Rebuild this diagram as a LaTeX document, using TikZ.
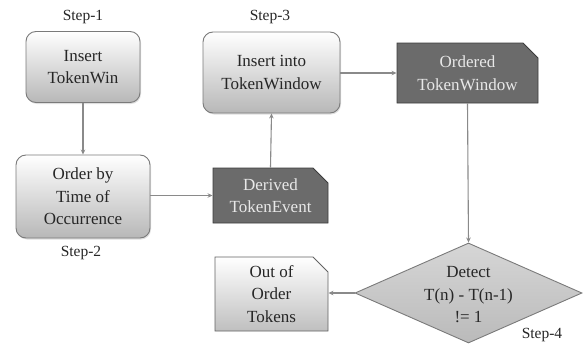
\documentclass[tikz,border=0pt]{standalone}
\usepackage{fontspec}
\setmainfont{Liberation Serif}
\usetikzlibrary{shapes.misc,shapes.geometric,arrows.meta,shadows}
\definecolor{edgegray}{HTML}{7A7A7A}
\definecolor{linegray}{HTML}{8A8A8A}
\definecolor{darkfill}{HTML}{6B6B6B}
\definecolor{darkedge}{HTML}{3C3C3C}
\definecolor{lighttext}{HTML}{E8E8E8}
\definecolor{textgray}{HTML}{262626}
\tikzset{
  x=1pt, y=-1pt,
  every node/.style={font=\fontsize{17}{22.5}\selectfont, align=center, inner sep=0pt, text=textgray},
  roundbox/.style={rounded corners=10pt, draw=edgegray, line width=0.9pt,
    top color=white, bottom color=black!28, drop shadow={opacity=0.25, shadow xshift=1pt, shadow yshift=-1.5pt}},
  darkdoc/.style={chamfered rectangle, chamfered rectangle corners=north east,
    chamfered rectangle xsep=7pt, chamfered rectangle ysep=8pt,
    draw=darkedge, line width=0.9pt, fill=darkfill, text=lighttext},
  lightdoc/.style={chamfered rectangle, chamfered rectangle corners=north east,
    chamfered rectangle xsep=7pt, chamfered rectangle ysep=8pt,
    draw=darkedge!80, line width=0.9pt, top color=white, bottom color=black!25},
  decision/.style={diamond, draw=edgegray, line width=0.9pt, top color=black!16, bottom color=black!27},
  steplabel/.style={font=\fontsize{15.5}{18}\selectfont},
  flow/.style={draw=linegray, line width=1.1pt, -{Stealth[length=5pt,width=4.5pt]}}
}
\begin{document}
\begin{tikzpicture}
\useasboundingbox (0,0) rectangle (584,348);

% process steps
\node[roundbox, minimum width=114pt, minimum height=71pt] (ins1) at (83,67) {Insert\\TokenWin};
\node[roundbox, minimum width=134pt, minimum height=83pt] (order) at (83,196.5) {Order by\\Time of\\Occurrence};
\node[roundbox, minimum width=137pt, minimum height=81pt] (ins3) at (271.5,72.5) {Insert into\\TokenWindow};

% data documents
\node[darkdoc, minimum width=115pt, minimum height=55pt] (derived) at (270.5,195.5) {Derived\\TokenEvent};
\node[darkdoc, minimum width=141pt, minimum height=60pt] (owin) at (467.5,73) {Ordered\\TokenWindow};
\node[lightdoc, minimum width=113pt, minimum height=74pt] (oot) at (271.5,294) {Out of\\Order\\Tokens};

% decision
\node[decision, minimum width=227pt, minimum height=100pt] (detect) at (468.5,293) {};
\node (detecttext) at (468.5,295) {Detect\\T(n) - T(n-1)\\!= 1};

% step labels
\node[steplabel] (s1) at (83,17) {Step-1};
\node[steplabel] (s2) at (81,253) {Step-2};
\node[steplabel] (s3) at (270,17) {Step-3};
\node[steplabel] (s4) at (542,335) {Step-4};

% connectors
\draw[flow] (ins1.south) -- (order.north);
\draw[flow] (order.east |- derived.west) -- (derived.west);
\draw[flow] (derived.north) -- (ins3.south);
\draw[flow] (ins3.east |- owin.west) -- (owin.west);
\draw[flow] (owin.south) -- (detect.north);
\draw[flow] (detect.west) -- (oot.east |- detect.west);
\end{tikzpicture}
\end{document}
